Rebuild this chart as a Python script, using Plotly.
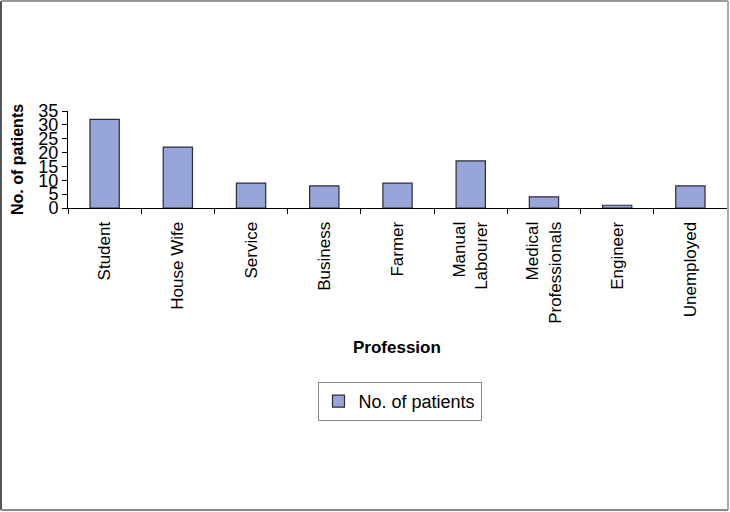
import plotly.graph_objects as go

professions = ["Student", "House Wife", "Service", "Business", "Farmer",
               "Manual<br>Labourer", "Medical<br>Professionals", "Engineer", "Unemployed"]
patients = [32, 22, 9, 8, 9, 17, 4, 1, 8]
y_ticks = [0, 5, 10, 15, 20, 25, 30, 35]

W, H = 730, 512
L, R, T, B = 68, 3, 111, 304
pw, ph = W - L - R, H - T - B


def px_x(p):
    return (p - L) / pw


def px_y(p):
    return (H - B - p) / ph


fig = go.Figure(
    go.Bar(
        x=professions,
        y=patients,
        name="No. of patients",
        marker=dict(color="#97A5D8", line=dict(color="#2b2b3a", width=1.2)),
        showlegend=True,
    )
)

fig.update_layout(
    width=W,
    height=H,
    margin=dict(l=L, r=R, t=T, b=B, autoexpand=False),
    paper_bgcolor="white",
    plot_bgcolor="white",
    font=dict(family="Arial, Liberation Sans, sans-serif", color="black", size=16),
    bargap=0.6,
    showlegend=True,
    legend=dict(
        x=px_x(399.5), y=px_y(382), xanchor="center", yanchor="top",
        bordercolor="#8a8a8a", borderwidth=1, bgcolor="white",
        font=dict(size=18), itemwidth=30,
    ),
    xaxis=dict(
        type="category",
        showline=True, linecolor="black", linewidth=1,
        ticks="outside", tickson="boundaries", ticklen=5, tickcolor="black",
        tickangle=-90, tickfont=dict(size=17), ticklabelstandoff=6,
        showgrid=False,
    ),
    yaxis=dict(
        range=[0, 35], tickvals=y_ticks,
        showline=True, linecolor="black", linewidth=1,
        ticks="outside", ticklen=5, tickcolor="black",
        tickfont=dict(size=18), showgrid=False, zeroline=False,
    ),
)

fig.add_annotation(
    text="<b>No. of patients</b>", textangle=-90, showarrow=False,
    xref="paper", yref="paper", x=px_x(17), y=px_y(160),
    xanchor="center", yanchor="middle",
    font=dict(size=16),
)
fig.add_annotation(
    text="<b>Profession</b>", showarrow=False,
    xref="paper", yref="paper", x=px_x(397), y=px_y(347),
    xanchor="center", yanchor="middle",
    font=dict(size=17),
)

# outer frame of the chart
fig.add_shape(type="line", xref="paper", yref="paper",
              x0=px_x(1), x1=px_x(1), y0=px_y(1), y1=px_y(510),
              line=dict(color="#555555", width=2))
fig.add_shape(type="line", xref="paper", yref="paper",
              x0=px_x(1), x1=px_x(728), y0=px_y(1), y1=px_y(1),
              line=dict(color="#9a9a9a", width=2))
fig.add_shape(type="line", xref="paper", yref="paper",
              x0=px_x(728), x1=px_x(728), y0=px_y(1), y1=px_y(510),
              line=dict(color="#aaaaaa", width=2))
fig.add_shape(type="line", xref="paper", yref="paper",
              x0=px_x(1), x1=px_x(728), y0=px_y(510), y1=px_y(510),
              line=dict(color="#888888", width=2))

fig.write_html("out.html", config={"displayModeBar": False},
               post_script="document.body.style.margin='0';")
